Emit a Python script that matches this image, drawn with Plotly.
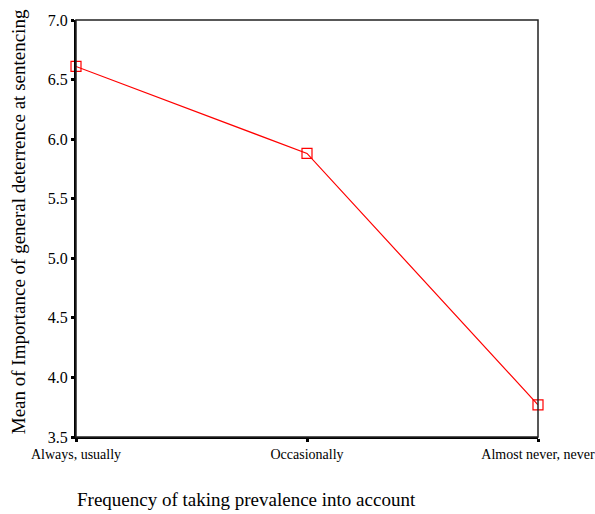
import plotly.graph_objects as go

categories = ["Always, usually", "Occasionally", "Almost never, never"]
means = [6.61, 5.88, 3.77]
y_ticks = [3.5, 4.0, 4.5, 5.0, 5.5, 6.0, 6.5, 7.0]

fig = go.Figure()
fig.add_trace(go.Scatter(
    x=categories, y=means, mode="lines+markers",
    line=dict(color="#ff0000", width=1.2),
    marker=dict(symbol="square-open", size=10, color="#ff0000", line=dict(width=1.2)),
    cliponaxis=False,
))

font = "Liberation Serif, Times New Roman, serif"
fig.update_layout(
    template="none",
    width=595, height=514,
    margin=dict(l=76, r=57, t=20, b=77),
    paper_bgcolor="white", plot_bgcolor="white",
    showlegend=False,
    font=dict(family=font, size=15, color="black"),
    xaxis=dict(
        type="category", range=[0, 2], showgrid=False, zeroline=False, automargin=False,
        showline=True, linecolor="black", linewidth=2,
        ticks="outside", ticklen=3, tickwidth=3, tickcolor="black",
        tickfont=dict(family=font, size=14),
    ),
    yaxis=dict(
        range=[3.5, 7.0], tickvals=y_ticks, ticktext=[f"{v:.1f}" for v in y_ticks],
        showgrid=False, zeroline=False, automargin=False,
        showline=True, linecolor="black", linewidth=2,
        ticks="outside", ticklen=3, tickwidth=3, tickcolor="black",
        tickfont=dict(family=font, size=16),
    ),
    shapes=[dict(type="rect", xref="paper", yref="paper", x0=0, y0=0, x1=1, y1=1,
                 line=dict(color="#222", width=1.5))],
    annotations=[
        dict(text="Mean of Importance of general deterrence at sentencing",
             xref="paper", yref="paper", x=-0.1255, y=0.515, xanchor="center", yanchor="middle",
             textangle=-90, showarrow=False, font=dict(family=font, size=19)),
        dict(text="Frequency of taking prevalence into account",
             xref="paper", yref="paper", x=0.368, y=-0.151, xanchor="center", yanchor="middle",
             showarrow=False, font=dict(family=font, size=19)),
    ],
)
fig.write_html("out.html", config={"displayModeBar": False},
               post_script="document.body.style.margin='0';")
